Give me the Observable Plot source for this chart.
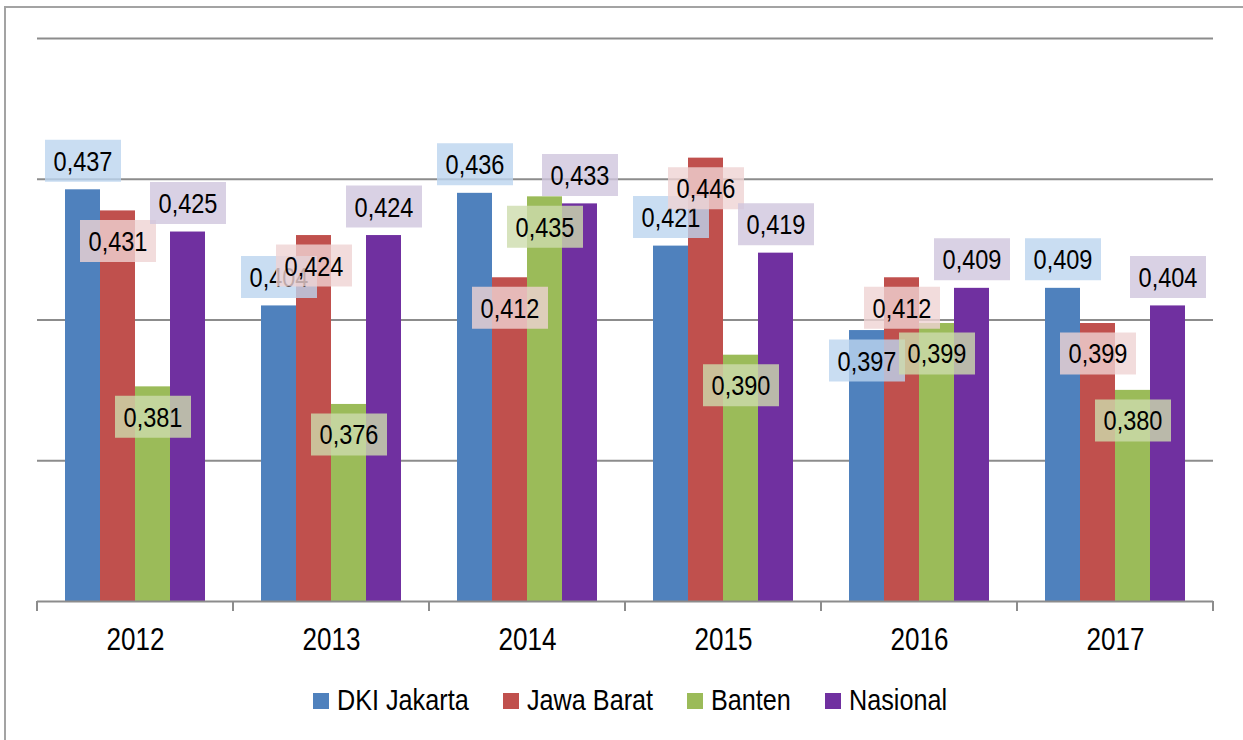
<!DOCTYPE html>
<html>
<head>
<meta charset="utf-8">
<script src="https://cdn.jsdelivr.net/npm/d3@7"></script>
<script src="https://cdn.jsdelivr.net/npm/@observablehq/plot@0.6"></script>
<style>
  body { margin: 0; background: #fff; font-family: "Liberation Sans", sans-serif; }
  #wrap { position: relative; width: 1243px; height: 740px; overflow: hidden; background: #fff; }
  #chart { position: absolute; left: 0; top: 0; }
  #frame { position: absolute; left: 4px; top: 6px; width: 1400px; height: 900px;
           border-top: 2px solid #a3a3a3; border-left: 2px solid #a3a3a3; pointer-events: none; }
  #legend { position: absolute; left: 17px; top: 680px; width: 1226px; height: 40px;
            display: flex; justify-content: center; align-items: center;
            font-size: 30px; color: #000; }
  .item { display: flex; align-items: center; margin: 0 17px; }
  .sw { width: 16px; height: 16px; margin-right: 8px; margin-top: 2px; flex: none; }
  .lt { display: inline-block; white-space: nowrap; transform-origin: left center; }
</style>
</head>
<body>
<div id="wrap"><div id="chart"></div><div id="legend"></div><div id="frame"></div></div>
<script>
// ---- data ----
const years = ["2012", "2013", "2014", "2015", "2016", "2017"];
const seriesNames = ["DKI Jakarta", "Jawa Barat", "Banten", "Nasional"];
const dkiJakarta = [0.437, 0.404, 0.436, 0.421, 0.397, 0.409];
const jawaBarat  = [0.431, 0.424, 0.412, 0.446, 0.412, 0.399];
const banten     = [0.381, 0.376, 0.435, 0.390, 0.399, 0.380];
const nasional   = [0.425, 0.424, 0.433, 0.419, 0.409, 0.404];
// where each data label sits relative to its bar top
const dkiLabelPos       = ["above", "above", "above", "above", "inside", "above"];
const jawaBaratLabelPos = ["inside", "inside", "inside", "inside", "inside", "inside"];
const bantenLabelPos    = ["inside", "inside", "inside", "inside", "inside", "inside"];
const nasionalLabelPos  = ["above", "above", "above", "above", "above", "above"];
const yMin = 0.32, yMax = 0.48;
const gridTicks = [0.36, 0.40, 0.44, 0.48];

// ---- styles ----
const barColors = ["#4f81bd", "#c0504d", "#9bbb59", "#7030a0"];
const boxColors = ["#bbd4ef", "#efd3d3", "#cddcac", "#cfc5dd"];
const gray = "#8c8c8c";
const font = '"Liberation Sans", sans-serif';
const condense = 0.84; // narrow the glyphs like the reference's condensed face

const seriesValues = [dkiJakarta, jawaBarat, banten, nasional];
const seriesPos = [dkiLabelPos, jawaBaratLabelPos, bantenLabelPos, nasionalLabelPos];
const data = years.flatMap((year, i) =>
  seriesNames.map((series, j) => ({year, series, value: seriesValues[j][i], pos: seriesPos[j][i]})));

const fmt = v => v.toFixed(3).replace(".", ",");

// label box: a fixed-size rectangle symbol centred on the label anchor
const boxSymbol = { draw(ctx) { ctx.rect(-38, -21, 76, 42); } };

function boundaryTicks(index, scales, values, dimensions) {
  const {marginLeft, marginRight, width} = dimensions;
  const y0 = scales.y(yMin);
  const g = d3.create("svg:g").attr("stroke", gray).attr("stroke-width", 2);
  for (const x of [marginLeft, width - marginRight]) {
    g.append("line").attr("x1", x).attr("x2", x).attr("y1", y0).attr("y2", y0 + 10);
  }
  return g.node();
}

const labelMarks = seriesNames.flatMap((s, j) => ["above", "inside"].flatMap(pos => {
  const sub = data.filter(d => d.series === s && d.pos === pos);
  if (!sub.length) return [];
  const dy = pos === "above" ? -29 : 30;
  return [
    Plot.dot(sub, {fx: "year", x: "series", y: "value", dy, symbol: boxSymbol,
                   fill: boxColors[j], fillOpacity: 0.8, stroke: "none"}),
    Plot.text(sub, {fx: "year", x: "series", y: "value", dy: dy + 1, text: d => fmt(d.value),
                    fontSize: 28, fill: "#000", fontFamily: font})
  ];
}));

const chart = Plot.plot({
  width: 1243,
  height: 670,
  marginTop: 38,
  marginBottom: 69,
  marginLeft: 35,
  marginRight: 28,
  style: {fontFamily: font, fontSize: "30px", background: "transparent", overflow: "visible"},
  fx: {domain: years, padding: 0, axis: null, label: null},
  x: {domain: seriesNames, paddingInner: 0, paddingOuter: 0.78, axis: null},
  y: {domain: [yMin, yMax], axis: null},
  color: {domain: seriesNames, range: barColors},
  marks: [
    Plot.ruleY(gridTicks, {stroke: gray, strokeWidth: 2}),
    Plot.barY(data, {fx: "year", x: "series", y1: yMin, y2: "value", fill: "series"}),
    Plot.ruleY([yMin], {stroke: gray, strokeWidth: 2}),
    boundaryTicks,
    ...labelMarks,
    Plot.axisFx({anchor: "bottom", tickSize: 0, tickPadding: 26, label: null, fontSize: 31, fill: "#000"})
  ]
});
document.getElementById("chart").appendChild(chart);

// condense all texts in the chart
chart.querySelectorAll("text").forEach(t => {
  const len = t.getComputedTextLength();
  if (len > 0) {
    t.setAttribute("textLength", (len * condense).toFixed(1));
    t.setAttribute("lengthAdjust", "spacingAndGlyphs");
  }
});

const legend = d3.select("#legend");
seriesNames.forEach((s, j) => {
  const item = legend.append("div").attr("class", "item");
  item.append("div").attr("class", "sw").style("background", barColors[j]);
  const span = item.append("span").attr("class", "lt").text(s);
  const w = span.node().getBoundingClientRect().width;
  span.style("transform", `scaleX(${condense})`).style("margin-right", `${-(1 - condense) * w}px`);
});
</script>
</body>
</html>
